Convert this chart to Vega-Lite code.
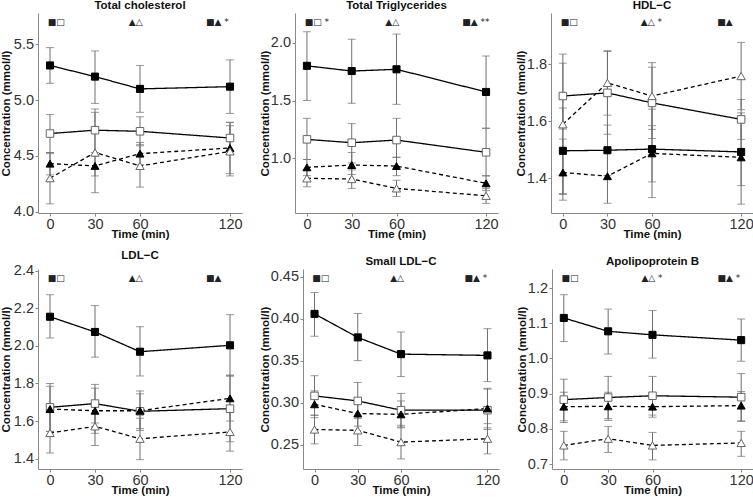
{
"$schema":"https://vega.github.io/schema/vega-lite/v6.json",
"padding":{"left":0,"top":0,"right":0,"bottom":0},
"background":"white",
"datasets":{
"tc":[
{"g":"A","t":0,"m":5.31,"lo":5.15,"hi":5.47},{"g":"A","t":30,"m":5.21,"lo":4.97,"hi":5.44},{"g":"A","t":60,"m":5.10,"lo":4.89,"hi":5.31},{"g":"A","t":120,"m":5.12,"lo":4.88,"hi":5.36},
{"g":"B","t":0,"m":4.70,"lo":4.53,"hi":4.87},{"g":"B","t":30,"m":4.73,"lo":4.53,"hi":4.92},{"g":"B","t":60,"m":4.72,"lo":4.59,"hi":4.85},{"g":"B","t":120,"m":4.66,"lo":4.52,"hi":4.80},
{"g":"C","t":0,"m":4.43,"lo":4.33,"hi":4.53},{"g":"C","t":30,"m":4.41,"lo":4.32,"hi":4.50},{"g":"C","t":60,"m":4.52,"lo":4.42,"hi":4.62},{"g":"C","t":120,"m":4.57,"lo":4.34,"hi":4.80},
{"g":"D","t":0,"m":4.30,"lo":4.07,"hi":4.52},{"g":"D","t":30,"m":4.53,"lo":4.17,"hi":4.89},{"g":"D","t":60,"m":4.41,"lo":4.22,"hi":4.60},{"g":"D","t":120,"m":4.54,"lo":4.32,"hi":4.77}],
"tg":[
{"g":"A","t":0,"m":1.80,"lo":1.50,"hi":2.095},{"g":"A","t":30,"m":1.755,"lo":1.476,"hi":2.03},{"g":"A","t":60,"m":1.77,"lo":1.467,"hi":2.075},{"g":"A","t":120,"m":1.574,"lo":1.26,"hi":1.885},
{"g":"B","t":0,"m":1.164,"lo":0.99,"hi":1.346},{"g":"B","t":30,"m":1.135,"lo":0.96,"hi":1.30},{"g":"B","t":60,"m":1.158,"lo":1.008,"hi":1.346},{"g":"B","t":120,"m":1.052,"lo":0.847,"hi":1.26},
{"g":"C","t":0,"m":0.922,"lo":0.85,"hi":0.99},{"g":"C","t":30,"m":0.942,"lo":0.86,"hi":1.05},{"g":"C","t":60,"m":0.933,"lo":0.85,"hi":1.01},{"g":"C","t":120,"m":0.784,"lo":0.72,"hi":0.85},
{"g":"D","t":0,"m":0.827,"lo":0.754,"hi":0.90},{"g":"D","t":30,"m":0.821,"lo":0.74,"hi":0.90},{"g":"D","t":60,"m":0.74,"lo":0.67,"hi":0.81},{"g":"D","t":120,"m":0.676,"lo":0.61,"hi":0.74}],
"hdl":[
{"g":"A","t":0,"m":1.497,"lo":1.347,"hi":1.647},{"g":"A","t":30,"m":1.499,"lo":1.411,"hi":1.587},{"g":"A","t":60,"m":1.503,"lo":1.388,"hi":1.585},{"g":"A","t":120,"m":1.493,"lo":1.375,"hi":1.61},
{"g":"B","t":0,"m":1.689,"lo":1.573,"hi":1.804},{"g":"B","t":30,"m":1.700,"lo":1.555,"hi":1.845},{"g":"B","t":60,"m":1.665,"lo":1.54,"hi":1.79},{"g":"B","t":120,"m":1.607,"lo":1.537,"hi":1.677},
{"g":"C","t":0,"m":1.421,"lo":1.324,"hi":1.538},{"g":"C","t":30,"m":1.408,"lo":1.313,"hi":1.503},{"g":"C","t":60,"m":1.488,"lo":1.333,"hi":1.643},{"g":"C","t":120,"m":1.474,"lo":1.31,"hi":1.63},
{"g":"D","t":0,"m":1.59,"lo":1.344,"hi":1.836},{"g":"D","t":30,"m":1.735,"lo":1.622,"hi":1.848},{"g":"D","t":60,"m":1.689,"lo":1.572,"hi":1.806},{"g":"D","t":120,"m":1.759,"lo":1.641,"hi":1.877}],
"ldl":[
{"g":"A","t":0,"m":2.155,"lo":2.042,"hi":2.272},{"g":"A","t":30,"m":2.074,"lo":1.94,"hi":2.214},{"g":"A","t":60,"m":1.969,"lo":1.84,"hi":2.102},{"g":"A","t":120,"m":2.003,"lo":1.84,"hi":2.166},
{"g":"B","t":0,"m":1.673,"lo":1.545,"hi":1.80},{"g":"B","t":30,"m":1.693,"lo":1.59,"hi":1.795},{"g":"B","t":60,"m":1.652,"lo":1.56,"hi":1.745},{"g":"B","t":120,"m":1.666,"lo":1.49,"hi":1.84},
{"g":"C","t":0,"m":1.664,"lo":1.545,"hi":1.785},{"g":"C","t":30,"m":1.655,"lo":1.535,"hi":1.775},{"g":"C","t":60,"m":1.655,"lo":1.55,"hi":1.76},{"g":"C","t":120,"m":1.721,"lo":1.60,"hi":1.845},
{"g":"D","t":0,"m":1.537,"lo":1.43,"hi":1.645},{"g":"D","t":30,"m":1.572,"lo":1.47,"hi":1.675},{"g":"D","t":60,"m":1.506,"lo":1.395,"hi":1.615},{"g":"D","t":120,"m":1.542,"lo":1.44,"hi":1.645}],
"sldl":[
{"g":"A","t":0,"m":0.4056,"lo":0.379,"hi":0.431},{"g":"A","t":30,"m":0.3776,"lo":0.35,"hi":0.406},{"g":"A","t":60,"m":0.3577,"lo":0.331,"hi":0.384},{"g":"A","t":120,"m":0.3562,"lo":0.325,"hi":0.388},
{"g":"B","t":0,"m":0.308,"lo":0.285,"hi":0.332},{"g":"B","t":30,"m":0.302,"lo":0.281,"hi":0.324},{"g":"B","t":60,"m":0.291,"lo":0.271,"hi":0.311},{"g":"B","t":120,"m":0.291,"lo":0.268,"hi":0.316},
{"g":"C","t":0,"m":0.298,"lo":0.282,"hi":0.314},{"g":"C","t":30,"m":0.287,"lo":0.272,"hi":0.302},{"g":"C","t":60,"m":0.286,"lo":0.270,"hi":0.302},{"g":"C","t":120,"m":0.293,"lo":0.270,"hi":0.317},
{"g":"D","t":0,"m":0.268,"lo":0.251,"hi":0.285},{"g":"D","t":30,"m":0.267,"lo":0.249,"hi":0.285},{"g":"D","t":60,"m":0.253,"lo":0.233,"hi":0.273},{"g":"D","t":120,"m":0.257,"lo":0.239,"hi":0.275}],
"apob":[
{"g":"A","t":0,"m":1.115,"lo":1.048,"hi":1.181},{"g":"A","t":30,"m":1.077,"lo":1.0125,"hi":1.14},{"g":"A","t":60,"m":1.067,"lo":1.001,"hi":1.136},{"g":"A","t":120,"m":1.052,"lo":0.992,"hi":1.112},
{"g":"B","t":0,"m":0.883,"lo":0.823,"hi":0.941},{"g":"B","t":30,"m":0.889,"lo":0.829,"hi":0.949},{"g":"B","t":60,"m":0.894,"lo":0.839,"hi":0.949},{"g":"B","t":120,"m":0.890,"lo":0.823,"hi":0.957},
{"g":"C","t":0,"m":0.863,"lo":0.818,"hi":0.904},{"g":"C","t":30,"m":0.864,"lo":0.824,"hi":0.904},{"g":"C","t":60,"m":0.863,"lo":0.833,"hi":0.893},{"g":"C","t":120,"m":0.866,"lo":0.821,"hi":0.906},
{"g":"D","t":0,"m":0.753,"lo":0.712,"hi":0.793},{"g":"D","t":30,"m":0.772,"lo":0.733,"hi":0.807},{"g":"D","t":60,"m":0.753,"lo":0.712,"hi":0.79},{"g":"D","t":120,"m":0.760,"lo":0.722,"hi":0.793}],
"tca":[{"t":-1.5,"y":5.70,"s":"■□"},{"t":52.5,"y":5.70,"s":"▲△"},{"t":104,"y":5.70,"s":"■▲ *"}],
"tga":[{"t":-1.5,"y":2.18,"s":"■□ *"},{"t":52.5,"y":2.18,"s":"▲△"},{"t":104,"y":2.18,"s":"■▲ **"}],
"hdla":[{"t":-1.5,"y":1.948,"s":"■□"},{"t":52.5,"y":1.948,"s":"▲△ *"},{"t":104,"y":1.948,"s":"■▲"}],
"ldla":[{"t":-1.5,"y":2.361,"s":"■□"},{"t":52.5,"y":2.361,"s":"▲△"},{"t":104,"y":2.361,"s":"■▲"}],
"sldla":[{"t":-1.5,"y":0.448,"s":"■□"},{"t":52.5,"y":0.448,"s":"▲△"},{"t":104,"y":0.448,"s":"■▲ *"}],
"apoba":[{"t":-1.5,"y":1.228,"s":"■□"},{"t":52.5,"y":1.228,"s":"▲△ *"},{"t":104,"y":1.228,"s":"■▲ *"}]
},
"vconcat":[
{"spacing":16,"hconcat":[
{"width":204,"height":200,"title":"Total cholesterol","data":{"name":"tc"},
"layer":[
{"mark":{"type":"rule","color":"#6e6e6e","strokeWidth":1},"encoding":{"x":{"field":"t","type":"quantitative","title":"Time (min)","scale":{"domain":[-8,128],"nice":false},"axis":{"values":[0,30,60,120]}},"y":{"field":"lo","type":"quantitative","title":"Concentration (mmol/l)","scale":{"domain":[3.988,5.78],"nice":false,"zero":false},"axis":{"values":[4,4.5,5,5.5],"format":".1f","minExtent":26,"maxExtent":26}},"y2":{"field":"hi"}}},
{"mark":{"type":"tick","orient":"horizontal","color":"#6e6e6e","size":8,"thickness":1},"encoding":{"x":{"field":"t","type":"quantitative","title":"Time (min)","scale":{"domain":[-8,128],"nice":false},"axis":{"values":[0,30,60,120]}},"y":{"field":"lo","type":"quantitative","title":"Concentration (mmol/l)","scale":{"domain":[3.988,5.78],"nice":false,"zero":false},"axis":{"values":[4,4.5,5,5.5],"format":".1f","minExtent":26,"maxExtent":26}}}},
{"mark":{"type":"tick","orient":"horizontal","color":"#6e6e6e","size":8,"thickness":1},"encoding":{"x":{"field":"t","type":"quantitative","title":"Time (min)","scale":{"domain":[-8,128],"nice":false},"axis":{"values":[0,30,60,120]}},"y":{"field":"hi","type":"quantitative","title":"Concentration (mmol/l)","scale":{"domain":[3.988,5.78],"nice":false,"zero":false},"axis":{"values":[4,4.5,5,5.5],"format":".1f","minExtent":26,"maxExtent":26}}}},
{"mark":{"type":"line","color":"#000","strokeWidth":1.3},"encoding":{"x":{"field":"t","type":"quantitative","title":"Time (min)","scale":{"domain":[-8,128],"nice":false},"axis":{"values":[0,30,60,120]}},"y":{"field":"m","type":"quantitative","title":"Concentration (mmol/l)","scale":{"domain":[3.988,5.78],"nice":false,"zero":false},"axis":{"values":[4,4.5,5,5.5],"format":".1f","minExtent":26,"maxExtent":26}},"strokeDash":{"field":"g","type":"nominal","scale":{"domain":["A","B","C","D"],"range":[[1,0],[1,0],[4,3],[4,3]]},"legend":null}}},
{"mark":{"type":"point","filled":true,"opacity":1,"strokeWidth":1},"encoding":{"x":{"field":"t","type":"quantitative","title":"Time (min)","scale":{"domain":[-8,128],"nice":false},"axis":{"values":[0,30,60,120]}},"y":{"field":"m","type":"quantitative","title":"Concentration (mmol/l)","scale":{"domain":[3.988,5.78],"nice":false,"zero":false},"axis":{"values":[4,4.5,5,5.5],"format":".1f","minExtent":26,"maxExtent":26}},"shape":{"field":"g","type":"nominal","scale":{"domain":["A","B","C","D"],"range":["square","square","triangle-up","triangle-up"]},"legend":null},"fill":{"field":"g","type":"nominal","scale":{"domain":["A","B","C","D"],"range":["#000","#fff","#000","#fff"]},"legend":null},"stroke":{"field":"g","type":"nominal","scale":{"domain":["A","B","C","D"],"range":["#000","#666","#000","#666"]},"legend":null},"size":{"field":"g","type":"ordinal","scale":{"domain":["A","B","C","D"],"range":[50,70]},"legend":null}}},
{"data":{"name":"tca"},"mark":{"type":"text","align":"left","baseline":"middle","font":"DejaVu Sans","fontSize":9,"color":"#222"},"encoding":{"x":{"field":"t","type":"quantitative","title":"Time (min)","scale":{"domain":[-8,128],"nice":false},"axis":{"values":[0,30,60,120]}},"y":{"field":"y","type":"quantitative","title":"Concentration (mmol/l)","scale":{"domain":[3.988,5.78],"nice":false,"zero":false},"axis":{"values":[4,4.5,5,5.5],"format":".1f","minExtent":26,"maxExtent":26}},"text":{"field":"s"}}}
]},
{"width":203,"height":200,"title":"Total Triglycerides","data":{"name":"tg"},
"layer":[
{"mark":{"type":"rule","color":"#6e6e6e","strokeWidth":1},"encoding":{"x":{"field":"t","type":"quantitative","title":"Time (min)","scale":{"domain":[-8,128],"nice":false},"axis":{"values":[0,30,60,120]}},"y":{"field":"lo","type":"quantitative","title":"Concentration (mmol/l)","scale":{"domain":[0.527,2.257],"nice":false,"zero":false},"axis":{"values":[1,1.5,2],"format":".1f","minExtent":24,"maxExtent":24}},"y2":{"field":"hi"}}},
{"mark":{"type":"tick","orient":"horizontal","color":"#6e6e6e","size":8,"thickness":1},"encoding":{"x":{"field":"t","type":"quantitative","title":"Time (min)","scale":{"domain":[-8,128],"nice":false},"axis":{"values":[0,30,60,120]}},"y":{"field":"lo","type":"quantitative","title":"Concentration (mmol/l)","scale":{"domain":[0.527,2.257],"nice":false,"zero":false},"axis":{"values":[1,1.5,2],"format":".1f","minExtent":24,"maxExtent":24}}}},
{"mark":{"type":"tick","orient":"horizontal","color":"#6e6e6e","size":8,"thickness":1},"encoding":{"x":{"field":"t","type":"quantitative","title":"Time (min)","scale":{"domain":[-8,128],"nice":false},"axis":{"values":[0,30,60,120]}},"y":{"field":"hi","type":"quantitative","title":"Concentration (mmol/l)","scale":{"domain":[0.527,2.257],"nice":false,"zero":false},"axis":{"values":[1,1.5,2],"format":".1f","minExtent":24,"maxExtent":24}}}},
{"mark":{"type":"line","color":"#000","strokeWidth":1.3},"encoding":{"x":{"field":"t","type":"quantitative","title":"Time (min)","scale":{"domain":[-8,128],"nice":false},"axis":{"values":[0,30,60,120]}},"y":{"field":"m","type":"quantitative","title":"Concentration (mmol/l)","scale":{"domain":[0.527,2.257],"nice":false,"zero":false},"axis":{"values":[1,1.5,2],"format":".1f","minExtent":24,"maxExtent":24}},"strokeDash":{"field":"g","type":"nominal","scale":{"domain":["A","B","C","D"],"range":[[1,0],[1,0],[4,3],[4,3]]},"legend":null}}},
{"mark":{"type":"point","filled":true,"opacity":1,"strokeWidth":1},"encoding":{"x":{"field":"t","type":"quantitative","title":"Time (min)","scale":{"domain":[-8,128],"nice":false},"axis":{"values":[0,30,60,120]}},"y":{"field":"m","type":"quantitative","title":"Concentration (mmol/l)","scale":{"domain":[0.527,2.257],"nice":false,"zero":false},"axis":{"values":[1,1.5,2],"format":".1f","minExtent":24,"maxExtent":24}},"shape":{"field":"g","type":"nominal","scale":{"domain":["A","B","C","D"],"range":["square","square","triangle-up","triangle-up"]},"legend":null},"fill":{"field":"g","type":"nominal","scale":{"domain":["A","B","C","D"],"range":["#000","#fff","#000","#fff"]},"legend":null},"stroke":{"field":"g","type":"nominal","scale":{"domain":["A","B","C","D"],"range":["#000","#666","#000","#666"]},"legend":null},"size":{"field":"g","type":"ordinal","scale":{"domain":["A","B","C","D"],"range":[50,70]},"legend":null}}},
{"data":{"name":"tga"},"mark":{"type":"text","align":"left","baseline":"middle","font":"DejaVu Sans","fontSize":9,"color":"#222"},"encoding":{"x":{"field":"t","type":"quantitative","title":"Time (min)","scale":{"domain":[-8,128],"nice":false},"axis":{"values":[0,30,60,120]}},"y":{"field":"y","type":"quantitative","title":"Concentration (mmol/l)","scale":{"domain":[0.527,2.257],"nice":false,"zero":false},"axis":{"values":[1,1.5,2],"format":".1f","minExtent":24,"maxExtent":24}},"text":{"field":"s"}}}
]},
{"width":202,"height":200,"title":"HDL−C","data":{"name":"hdl"},
"layer":[
{"mark":{"type":"rule","color":"#6e6e6e","strokeWidth":1},"encoding":{"x":{"field":"t","type":"quantitative","title":"Time (min)","scale":{"domain":[-8,128],"nice":false},"axis":{"values":[0,30,60,120]}},"y":{"field":"lo","type":"quantitative","title":"Concentration (mmol/l)","scale":{"domain":[1.279,1.98],"nice":false,"zero":false},"axis":{"values":[1.4,1.6,1.8],"format":".1f","minExtent":24,"maxExtent":24}},"y2":{"field":"hi"}}},
{"mark":{"type":"tick","orient":"horizontal","color":"#6e6e6e","size":8,"thickness":1},"encoding":{"x":{"field":"t","type":"quantitative","title":"Time (min)","scale":{"domain":[-8,128],"nice":false},"axis":{"values":[0,30,60,120]}},"y":{"field":"lo","type":"quantitative","title":"Concentration (mmol/l)","scale":{"domain":[1.279,1.98],"nice":false,"zero":false},"axis":{"values":[1.4,1.6,1.8],"format":".1f","minExtent":24,"maxExtent":24}}}},
{"mark":{"type":"tick","orient":"horizontal","color":"#6e6e6e","size":8,"thickness":1},"encoding":{"x":{"field":"t","type":"quantitative","title":"Time (min)","scale":{"domain":[-8,128],"nice":false},"axis":{"values":[0,30,60,120]}},"y":{"field":"hi","type":"quantitative","title":"Concentration (mmol/l)","scale":{"domain":[1.279,1.98],"nice":false,"zero":false},"axis":{"values":[1.4,1.6,1.8],"format":".1f","minExtent":24,"maxExtent":24}}}},
{"mark":{"type":"line","color":"#000","strokeWidth":1.3},"encoding":{"x":{"field":"t","type":"quantitative","title":"Time (min)","scale":{"domain":[-8,128],"nice":false},"axis":{"values":[0,30,60,120]}},"y":{"field":"m","type":"quantitative","title":"Concentration (mmol/l)","scale":{"domain":[1.279,1.98],"nice":false,"zero":false},"axis":{"values":[1.4,1.6,1.8],"format":".1f","minExtent":24,"maxExtent":24}},"strokeDash":{"field":"g","type":"nominal","scale":{"domain":["A","B","C","D"],"range":[[1,0],[1,0],[4,3],[4,3]]},"legend":null}}},
{"mark":{"type":"point","filled":true,"opacity":1,"strokeWidth":1},"encoding":{"x":{"field":"t","type":"quantitative","title":"Time (min)","scale":{"domain":[-8,128],"nice":false},"axis":{"values":[0,30,60,120]}},"y":{"field":"m","type":"quantitative","title":"Concentration (mmol/l)","scale":{"domain":[1.279,1.98],"nice":false,"zero":false},"axis":{"values":[1.4,1.6,1.8],"format":".1f","minExtent":24,"maxExtent":24}},"shape":{"field":"g","type":"nominal","scale":{"domain":["A","B","C","D"],"range":["square","square","triangle-up","triangle-up"]},"legend":null},"fill":{"field":"g","type":"nominal","scale":{"domain":["A","B","C","D"],"range":["#000","#fff","#000","#fff"]},"legend":null},"stroke":{"field":"g","type":"nominal","scale":{"domain":["A","B","C","D"],"range":["#000","#666","#000","#666"]},"legend":null},"size":{"field":"g","type":"ordinal","scale":{"domain":["A","B","C","D"],"range":[50,70]},"legend":null}}},
{"data":{"name":"hdla"},"mark":{"type":"text","align":"left","baseline":"middle","font":"DejaVu Sans","fontSize":9,"color":"#222"},"encoding":{"x":{"field":"t","type":"quantitative","title":"Time (min)","scale":{"domain":[-8,128],"nice":false},"axis":{"values":[0,30,60,120]}},"y":{"field":"y","type":"quantitative","title":"Concentration (mmol/l)","scale":{"domain":[1.279,1.98],"nice":false,"zero":false},"axis":{"values":[1.4,1.6,1.8],"format":".1f","minExtent":24,"maxExtent":24}},"text":{"field":"s"}}}
]}
]},
{"spacing":16,"hconcat":[
{"width":204,"height":200,"title":"LDL−C","data":{"name":"ldl"},
"layer":[
{"mark":{"type":"rule","color":"#6e6e6e","strokeWidth":1},"encoding":{"x":{"field":"t","type":"quantitative","title":"Time (min)","scale":{"domain":[-8,128],"nice":false},"axis":{"values":[0,30,60,120]}},"y":{"field":"lo","type":"quantitative","title":"Concentration (mmol/l)","scale":{"domain":[1.345,2.409],"nice":false,"zero":false},"axis":{"values":[1.4,1.6,1.8,2.0,2.2,2.4],"format":".1f","minExtent":26,"maxExtent":26}},"y2":{"field":"hi"}}},
{"mark":{"type":"tick","orient":"horizontal","color":"#6e6e6e","size":8,"thickness":1},"encoding":{"x":{"field":"t","type":"quantitative","title":"Time (min)","scale":{"domain":[-8,128],"nice":false},"axis":{"values":[0,30,60,120]}},"y":{"field":"lo","type":"quantitative","title":"Concentration (mmol/l)","scale":{"domain":[1.345,2.409],"nice":false,"zero":false},"axis":{"values":[1.4,1.6,1.8,2.0,2.2,2.4],"format":".1f","minExtent":26,"maxExtent":26}}}},
{"mark":{"type":"tick","orient":"horizontal","color":"#6e6e6e","size":8,"thickness":1},"encoding":{"x":{"field":"t","type":"quantitative","title":"Time (min)","scale":{"domain":[-8,128],"nice":false},"axis":{"values":[0,30,60,120]}},"y":{"field":"hi","type":"quantitative","title":"Concentration (mmol/l)","scale":{"domain":[1.345,2.409],"nice":false,"zero":false},"axis":{"values":[1.4,1.6,1.8,2.0,2.2,2.4],"format":".1f","minExtent":26,"maxExtent":26}}}},
{"mark":{"type":"line","color":"#000","strokeWidth":1.3},"encoding":{"x":{"field":"t","type":"quantitative","title":"Time (min)","scale":{"domain":[-8,128],"nice":false},"axis":{"values":[0,30,60,120]}},"y":{"field":"m","type":"quantitative","title":"Concentration (mmol/l)","scale":{"domain":[1.345,2.409],"nice":false,"zero":false},"axis":{"values":[1.4,1.6,1.8,2.0,2.2,2.4],"format":".1f","minExtent":26,"maxExtent":26}},"strokeDash":{"field":"g","type":"nominal","scale":{"domain":["A","B","C","D"],"range":[[1,0],[1,0],[4,3],[4,3]]},"legend":null}}},
{"mark":{"type":"point","filled":true,"opacity":1,"strokeWidth":1},"encoding":{"x":{"field":"t","type":"quantitative","title":"Time (min)","scale":{"domain":[-8,128],"nice":false},"axis":{"values":[0,30,60,120]}},"y":{"field":"m","type":"quantitative","title":"Concentration (mmol/l)","scale":{"domain":[1.345,2.409],"nice":false,"zero":false},"axis":{"values":[1.4,1.6,1.8,2.0,2.2,2.4],"format":".1f","minExtent":26,"maxExtent":26}},"shape":{"field":"g","type":"nominal","scale":{"domain":["A","B","C","D"],"range":["square","square","triangle-up","triangle-up"]},"legend":null},"fill":{"field":"g","type":"nominal","scale":{"domain":["A","B","C","D"],"range":["#000","#fff","#000","#fff"]},"legend":null},"stroke":{"field":"g","type":"nominal","scale":{"domain":["A","B","C","D"],"range":["#000","#666","#000","#666"]},"legend":null},"size":{"field":"g","type":"ordinal","scale":{"domain":["A","B","C","D"],"range":[50,70]},"legend":null}}},
{"data":{"name":"ldla"},"mark":{"type":"text","align":"left","baseline":"middle","font":"DejaVu Sans","fontSize":9,"color":"#222"},"encoding":{"x":{"field":"t","type":"quantitative","title":"Time (min)","scale":{"domain":[-8,128],"nice":false},"axis":{"values":[0,30,60,120]}},"y":{"field":"y","type":"quantitative","title":"Concentration (mmol/l)","scale":{"domain":[1.345,2.409],"nice":false,"zero":false},"axis":{"values":[1.4,1.6,1.8,2.0,2.2,2.4],"format":".1f","minExtent":26,"maxExtent":26}},"text":{"field":"s"}}}
]},
{"width":196,"height":200,"title":"Small LDL−C","data":{"name":"sldl"},
"layer":[
{"mark":{"type":"rule","color":"#6e6e6e","strokeWidth":1},"encoding":{"x":{"field":"t","type":"quantitative","title":"Time (min)","scale":{"domain":[-8,128],"nice":false},"axis":{"values":[0,30,60,120]}},"y":{"field":"lo","type":"quantitative","title":"Concentration (mmol/l)","scale":{"domain":[0.221,0.459],"nice":false,"zero":false},"axis":{"values":[0.25,0.3,0.35,0.4,0.45],"format":".2f","minExtent":32,"maxExtent":32}},"y2":{"field":"hi"}}},
{"mark":{"type":"tick","orient":"horizontal","color":"#6e6e6e","size":8,"thickness":1},"encoding":{"x":{"field":"t","type":"quantitative","title":"Time (min)","scale":{"domain":[-8,128],"nice":false},"axis":{"values":[0,30,60,120]}},"y":{"field":"lo","type":"quantitative","title":"Concentration (mmol/l)","scale":{"domain":[0.221,0.459],"nice":false,"zero":false},"axis":{"values":[0.25,0.3,0.35,0.4,0.45],"format":".2f","minExtent":32,"maxExtent":32}}}},
{"mark":{"type":"tick","orient":"horizontal","color":"#6e6e6e","size":8,"thickness":1},"encoding":{"x":{"field":"t","type":"quantitative","title":"Time (min)","scale":{"domain":[-8,128],"nice":false},"axis":{"values":[0,30,60,120]}},"y":{"field":"hi","type":"quantitative","title":"Concentration (mmol/l)","scale":{"domain":[0.221,0.459],"nice":false,"zero":false},"axis":{"values":[0.25,0.3,0.35,0.4,0.45],"format":".2f","minExtent":32,"maxExtent":32}}}},
{"mark":{"type":"line","color":"#000","strokeWidth":1.3},"encoding":{"x":{"field":"t","type":"quantitative","title":"Time (min)","scale":{"domain":[-8,128],"nice":false},"axis":{"values":[0,30,60,120]}},"y":{"field":"m","type":"quantitative","title":"Concentration (mmol/l)","scale":{"domain":[0.221,0.459],"nice":false,"zero":false},"axis":{"values":[0.25,0.3,0.35,0.4,0.45],"format":".2f","minExtent":32,"maxExtent":32}},"strokeDash":{"field":"g","type":"nominal","scale":{"domain":["A","B","C","D"],"range":[[1,0],[1,0],[4,3],[4,3]]},"legend":null}}},
{"mark":{"type":"point","filled":true,"opacity":1,"strokeWidth":1},"encoding":{"x":{"field":"t","type":"quantitative","title":"Time (min)","scale":{"domain":[-8,128],"nice":false},"axis":{"values":[0,30,60,120]}},"y":{"field":"m","type":"quantitative","title":"Concentration (mmol/l)","scale":{"domain":[0.221,0.459],"nice":false,"zero":false},"axis":{"values":[0.25,0.3,0.35,0.4,0.45],"format":".2f","minExtent":32,"maxExtent":32}},"shape":{"field":"g","type":"nominal","scale":{"domain":["A","B","C","D"],"range":["square","square","triangle-up","triangle-up"]},"legend":null},"fill":{"field":"g","type":"nominal","scale":{"domain":["A","B","C","D"],"range":["#000","#fff","#000","#fff"]},"legend":null},"stroke":{"field":"g","type":"nominal","scale":{"domain":["A","B","C","D"],"range":["#000","#666","#000","#666"]},"legend":null},"size":{"field":"g","type":"ordinal","scale":{"domain":["A","B","C","D"],"range":[50,70]},"legend":null}}},
{"data":{"name":"sldla"},"mark":{"type":"text","align":"left","baseline":"middle","font":"DejaVu Sans","fontSize":9,"color":"#222"},"encoding":{"x":{"field":"t","type":"quantitative","title":"Time (min)","scale":{"domain":[-8,128],"nice":false},"axis":{"values":[0,30,60,120]}},"y":{"field":"y","type":"quantitative","title":"Concentration (mmol/l)","scale":{"domain":[0.221,0.459],"nice":false,"zero":false},"axis":{"values":[0.25,0.3,0.35,0.4,0.45],"format":".2f","minExtent":32,"maxExtent":32}},"text":{"field":"s"}}}
]},
{"width":201,"height":200,"title":"Apolipoprotein B","data":{"name":"apob"},
"layer":[
{"mark":{"type":"rule","color":"#6e6e6e","strokeWidth":1},"encoding":{"x":{"field":"t","type":"quantitative","title":"Time (min)","scale":{"domain":[-8,128],"nice":false},"axis":{"values":[0,30,60,120]}},"y":{"field":"lo","type":"quantitative","title":"Concentration (mmol/l)","scale":{"domain":[0.686,1.254],"nice":false,"zero":false},"axis":{"values":[0.7,0.8,0.9,1.0,1.1,1.2],"format":".1f","minExtent":24,"maxExtent":24}},"y2":{"field":"hi"}}},
{"mark":{"type":"tick","orient":"horizontal","color":"#6e6e6e","size":8,"thickness":1},"encoding":{"x":{"field":"t","type":"quantitative","title":"Time (min)","scale":{"domain":[-8,128],"nice":false},"axis":{"values":[0,30,60,120]}},"y":{"field":"lo","type":"quantitative","title":"Concentration (mmol/l)","scale":{"domain":[0.686,1.254],"nice":false,"zero":false},"axis":{"values":[0.7,0.8,0.9,1.0,1.1,1.2],"format":".1f","minExtent":24,"maxExtent":24}}}},
{"mark":{"type":"tick","orient":"horizontal","color":"#6e6e6e","size":8,"thickness":1},"encoding":{"x":{"field":"t","type":"quantitative","title":"Time (min)","scale":{"domain":[-8,128],"nice":false},"axis":{"values":[0,30,60,120]}},"y":{"field":"hi","type":"quantitative","title":"Concentration (mmol/l)","scale":{"domain":[0.686,1.254],"nice":false,"zero":false},"axis":{"values":[0.7,0.8,0.9,1.0,1.1,1.2],"format":".1f","minExtent":24,"maxExtent":24}}}},
{"mark":{"type":"line","color":"#000","strokeWidth":1.3},"encoding":{"x":{"field":"t","type":"quantitative","title":"Time (min)","scale":{"domain":[-8,128],"nice":false},"axis":{"values":[0,30,60,120]}},"y":{"field":"m","type":"quantitative","title":"Concentration (mmol/l)","scale":{"domain":[0.686,1.254],"nice":false,"zero":false},"axis":{"values":[0.7,0.8,0.9,1.0,1.1,1.2],"format":".1f","minExtent":24,"maxExtent":24}},"strokeDash":{"field":"g","type":"nominal","scale":{"domain":["A","B","C","D"],"range":[[1,0],[1,0],[4,3],[4,3]]},"legend":null}}},
{"mark":{"type":"point","filled":true,"opacity":1,"strokeWidth":1},"encoding":{"x":{"field":"t","type":"quantitative","title":"Time (min)","scale":{"domain":[-8,128],"nice":false},"axis":{"values":[0,30,60,120]}},"y":{"field":"m","type":"quantitative","title":"Concentration (mmol/l)","scale":{"domain":[0.686,1.254],"nice":false,"zero":false},"axis":{"values":[0.7,0.8,0.9,1.0,1.1,1.2],"format":".1f","minExtent":24,"maxExtent":24}},"shape":{"field":"g","type":"nominal","scale":{"domain":["A","B","C","D"],"range":["square","square","triangle-up","triangle-up"]},"legend":null},"fill":{"field":"g","type":"nominal","scale":{"domain":["A","B","C","D"],"range":["#000","#fff","#000","#fff"]},"legend":null},"stroke":{"field":"g","type":"nominal","scale":{"domain":["A","B","C","D"],"range":["#000","#666","#000","#666"]},"legend":null},"size":{"field":"g","type":"ordinal","scale":{"domain":["A","B","C","D"],"range":[50,70]},"legend":null}}},
{"data":{"name":"apoba"},"mark":{"type":"text","align":"left","baseline":"middle","font":"DejaVu Sans","fontSize":9,"color":"#222"},"encoding":{"x":{"field":"t","type":"quantitative","title":"Time (min)","scale":{"domain":[-8,128],"nice":false},"axis":{"values":[0,30,60,120]}},"y":{"field":"y","type":"quantitative","title":"Concentration (mmol/l)","scale":{"domain":[0.686,1.254],"nice":false,"zero":false},"axis":{"values":[0.7,0.8,0.9,1.0,1.1,1.2],"format":".1f","minExtent":24,"maxExtent":24}},"text":{"field":"s"}}}
]}
]}
],
"spacing":9,
"config":{
"font":"Liberation Sans",
"view":{"stroke":null},
"axis":{"grid":false,"domainColor":"#888","tickColor":"#888","tickSize":3,"labelFontSize":14.5,"labelColor":"#333","labelFont":"Liberation Sans","titleFont":"Liberation Sans","titleFontSize":11.5,"titleFontWeight":"bold","titleColor":"#111","labelFlush":false,"labelOverlap":false,"labelBound":false},
"axisX":{"titlePadding":-2.5,"labelPadding":1},
"axisY":{"titlePadding":1,"labelPadding":1.5,"titleY":100},
"title":{"fontSize":11.5,"fontWeight":"bold","font":"Liberation Sans","anchor":"middle","offset":1.5,"color":"#111"}
}
}
